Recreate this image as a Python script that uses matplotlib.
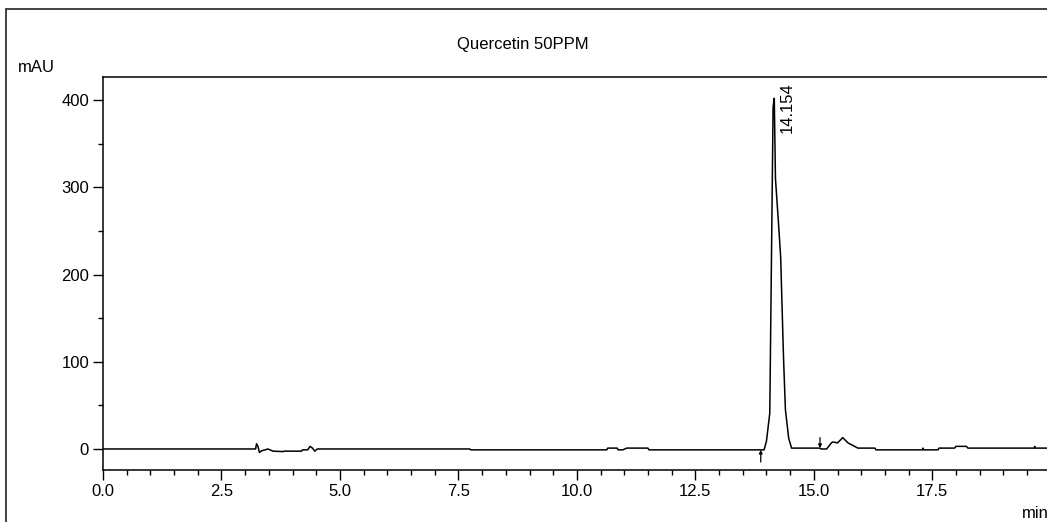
import matplotlib
matplotlib.use("Agg")
import matplotlib.pyplot as plt
from matplotlib.patches import Rectangle
from matplotlib.ticker import MultipleLocator

plt.rcParams['font.family'] = ['Liberation Sans', 'DejaVu Sans']

# chromatogram trace (min, mAU)
time_min = [0.0, 3.22, 3.24, 3.27, 3.30, 3.35, 3.42, 3.48, 3.59, 3.80, 3.82, 4.19, 4.21,
            4.32, 4.37, 4.42, 4.47, 4.52, 7.74, 7.76, 10.63, 10.65, 10.85, 10.87, 10.97,
            11.05, 11.5, 11.52, 13.95, 14.00, 14.07, 14.11, 14.14, 14.165, 14.19, 14.25,
            14.30, 14.36, 14.40, 14.47, 14.53, 15.13, 15.15, 15.27, 15.37, 15.40, 15.50,
            15.61, 15.72, 15.86, 15.93, 16.29, 16.31, 17.29, 17.30, 17.31, 17.62, 17.64,
            17.97, 18.0, 18.22, 18.25, 19.65, 19.66, 19.67, 19.92]
absorb_mau = [0.0, 0.0, 6.0, 3.0, -4.0, -2.0, -1.0, 0.0, -2.5, -3.0, -2.5, -2.5, -1.0,
              -1.0, 3.0, 1.0, -2.5, 0.0, 0.0, -1.0, -1.0, 1.0, 1.0, -1.0, -1.0,
              1.0, 1.0, -1.0, -1.0, 9.0, 41.0, 240.0, 392.0, 402.0, 310.0, 262.0,
              220.0, 105.0, 45.0, 12.0, 1.0, 1.0, 0.0, 0.0, 7.0, 8.0, 7.0,
              13.0, 7.0, 3.0, 1.0, 1.0, -1.0, -1.0, 1.0, -1.0, -1.0, 1.0,
              1.0, 3.0, 3.0, 1.0, 1.0, 3.0, 1.0, 1.0]

peak_time = 14.154
peak_label = "14.154"
mark_up = 13.88     # integration start tick
mark_down = 15.13   # integration end tick

fig = plt.figure(figsize=(10.47, 5.22), dpi=100)
W, H = 1047, 522

# outer frame
fig.patches.append(Rectangle((6 / W, -0.05), 1.2, 1 - 9 / H + 0.05, transform=fig.transFigure,
                             fill=False, edgecolor='#333333', linewidth=1.3))

ax = fig.add_axes([103 / W, 1 - 470 / H, 1 - 103 / W, (470 - 77) / H])
ax.plot(time_min, absorb_mau, color='black', linewidth=1.1)

ax.set_xlim(0, 19.92)
ax.set_ylim(-24.1, 426.4)
ax.spines['right'].set_visible(False)
for s in ['left', 'top', 'bottom']:
    ax.spines[s].set_linewidth(1.1)
ax.xaxis.set_major_locator(MultipleLocator(2.5))
ax.xaxis.set_minor_locator(MultipleLocator(0.5))
ax.yaxis.set_major_locator(MultipleLocator(100))
ax.yaxis.set_minor_locator(MultipleLocator(50))
ax.set_xticks([0, 2.5, 5, 7.5, 10, 12.5, 15, 17.5])
ax.set_xticklabels(['0.0', '2.5', '5.0', '7.5', '10.0', '12.5', '15.0', '17.5'])
ax.tick_params(which='major', length=7, width=1, labelsize=12, pad=3)
ax.tick_params(which='minor', length=3.5, width=1)
ax.tick_params(axis='x', which='major', length=7)

# integration markers
ax.annotate('', xy=(mark_up, -1), xytext=(mark_up, -15),
            arrowprops=dict(arrowstyle='-|>', color='black', lw=0.9,
                            mutation_scale=5, shrinkA=0, shrinkB=0))
ax.annotate('', xy=(mark_down, 1), xytext=(mark_down, 13),
            arrowprops=dict(arrowstyle='-|>', color='black', lw=0.9,
                            mutation_scale=5, shrinkA=0, shrinkB=0))

ax.annotate(peak_label, xy=(peak_time, 420), xytext=(4, 0), textcoords='offset points',
            rotation=90, ha='left', va='top', fontsize=12)

fig.text(0.5 * (1 + 103 / W) - 0.05, 1 - 44 / H, "Quercetin 50PPM", ha='center', va='center', fontsize=12)
fig.text(18 / W, 1 - 67 / H, "mAU", ha='left', va='center', fontsize=12)
fig.text(1022 / W, 1 - 513 / H, "min", ha='left', va='center', fontsize=12)

fig.savefig("out.png", dpi=100)
